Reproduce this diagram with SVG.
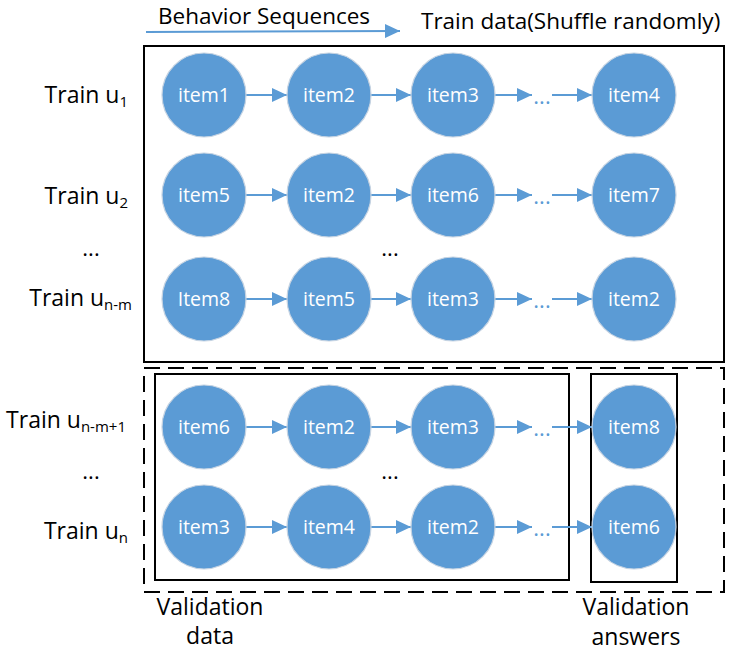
<svg xmlns="http://www.w3.org/2000/svg" width="739" height="657" viewBox="0 0 739 657">
<style>
.lbl{font-family:"Open Sans","Noto Sans","DejaVu Sans",sans-serif;font-size:23px;fill:#000}
.hdr{font-size:22.5px}
.sub{font-size:15px}
.node circle{fill:#5B9BD5;stroke:#c5d3e2;stroke-width:1.2}
.node text{font-family:"Open Sans","Noto Sans","DejaVu Sans",sans-serif;font-size:19.5px;fill:#fff;text-anchor:middle}
.conn line{stroke:#5B9BD5;stroke-width:2;marker-end:url(#ah)}
.dots{font-family:"Open Sans","Noto Sans",sans-serif;font-size:22px;fill:#5B9BD5;text-anchor:middle}
.bdots{font-family:"Open Sans","Noto Sans",sans-serif;font-size:22px;fill:#000;text-anchor:middle}
.box{fill:none;stroke:#000;stroke-width:2}
</style>
<defs>
<marker id="ah" markerUnits="userSpaceOnUse" viewBox="0 0 15 14" markerWidth="15" markerHeight="14" refX="15" refY="7" orient="auto">
<path d="M0,0 L15,7 L0,14 z" fill="#5B9BD5"/>
</marker>
</defs>
<rect width="739" height="657" fill="#fff"/>

<g id="header">
<text class="lbl hdr" x="158" y="24">Behavior Sequences</text>
<text class="lbl hdr" x="421" y="29">Train data(Shuffle randomly)</text>
</g>

<g id="boxes">
<rect id="train-box" class="box" x="144" y="46" width="580" height="316"/>
<rect id="validation-box" class="box" x="144" y="368" width="580" height="224" stroke-dasharray="16 8"/>
<rect id="validation-data-box" class="box" x="155" y="374" width="414" height="206"/>
<rect id="validation-answers-box" class="box" x="591" y="374" width="86" height="208"/>
</g>

<g id="row-labels">
<text class="lbl" x="128" y="103" text-anchor="end">Train u<tspan class="sub" dy="4">1</tspan></text>
<text class="lbl" x="128" y="204" text-anchor="end">Train u<tspan class="sub" dy="4">2</tspan></text>
<text class="bdots" x="91" y="256">...</text>
<text class="lbl" x="132" y="306" text-anchor="end">Train u<tspan class="sub" dy="4">n-m</tspan></text>
<text class="lbl" x="126" y="428" text-anchor="end">Train u<tspan class="sub" dy="4">n-m+1</tspan></text>
<text class="bdots" x="91" y="479">...</text>
<text class="lbl" x="128" y="539" text-anchor="end">Train u<tspan class="sub" dy="4">n</tspan></text>
<text class="bdots" x="390" y="256">...</text>
<text class="bdots" x="390" y="479">...</text>
</g>

<g id="connectors" class="conn">
<line x1="146" y1="32" x2="400" y2="31"/>
<line x1="246" y1="95" x2="287" y2="95"/><line x1="371" y1="95" x2="411" y2="95"/><line x1="495" y1="95" x2="532" y2="95"/><line x1="552" y1="95" x2="592" y2="95"/>
<line x1="246" y1="195" x2="287" y2="195"/><line x1="371" y1="195" x2="411" y2="195"/><line x1="495" y1="195" x2="532" y2="195"/><line x1="552" y1="195" x2="592" y2="195"/>
<line x1="246" y1="299" x2="287" y2="299"/><line x1="371" y1="299" x2="411" y2="299"/><line x1="495" y1="299" x2="532" y2="299"/><line x1="552" y1="299" x2="592" y2="299"/>
<line x1="246" y1="427" x2="287" y2="427"/><line x1="371" y1="427" x2="411" y2="427"/><line x1="495" y1="427" x2="532" y2="427"/><line x1="552" y1="427" x2="592" y2="427"/>
<line x1="246" y1="527" x2="287" y2="527"/><line x1="371" y1="527" x2="411" y2="527"/><line x1="495" y1="527" x2="532" y2="527"/><line x1="552" y1="527" x2="592" y2="527"/>
</g>
<g id="ellipses">
<text class="dots" x="542" y="104">...</text>
<text class="dots" x="542" y="204">...</text>
<text class="dots" x="542" y="308">...</text>
<text class="dots" x="542" y="436">...</text>
<text class="dots" x="542" y="536">...</text>
</g>

<g id="n-r1-1" class="node"><circle cx="204" cy="95" r="42"/><text x="204" y="102">item1</text></g>
<g id="n-r1-2" class="node"><circle cx="329" cy="95" r="42"/><text x="329" y="102">item2</text></g>
<g id="n-r1-3" class="node"><circle cx="453" cy="95" r="42"/><text x="453" y="102">item3</text></g>
<g id="n-r1-4" class="node"><circle cx="634" cy="95" r="42"/><text x="634" y="102">item4</text></g>

<g id="n-r2-1" class="node"><circle cx="204" cy="195" r="42"/><text x="204" y="202">item5</text></g>
<g id="n-r2-2" class="node"><circle cx="329" cy="195" r="42"/><text x="329" y="202">item2</text></g>
<g id="n-r2-3" class="node"><circle cx="453" cy="195" r="42"/><text x="453" y="202">item6</text></g>
<g id="n-r2-4" class="node"><circle cx="634" cy="195" r="42"/><text x="634" y="202">item7</text></g>

<g id="n-r3-1" class="node"><circle cx="204" cy="299" r="42"/><text x="204" y="306">Item8</text></g>
<g id="n-r3-2" class="node"><circle cx="329" cy="299" r="42"/><text x="329" y="306">item5</text></g>
<g id="n-r3-3" class="node"><circle cx="453" cy="299" r="42"/><text x="453" y="306">item3</text></g>
<g id="n-r3-4" class="node"><circle cx="634" cy="299" r="42"/><text x="634" y="306">item2</text></g>

<g id="n-r4-1" class="node"><circle cx="204" cy="427" r="42"/><text x="204" y="434">item6</text></g>
<g id="n-r4-2" class="node"><circle cx="329" cy="427" r="42"/><text x="329" y="434">item2</text></g>
<g id="n-r4-3" class="node"><circle cx="453" cy="427" r="42"/><text x="453" y="434">item3</text></g>
<g id="n-r4-4" class="node"><circle cx="634" cy="427" r="42"/><text x="634" y="434">item8</text></g>

<g id="n-r5-1" class="node"><circle cx="204" cy="527" r="42"/><text x="204" y="534">item3</text></g>
<g id="n-r5-2" class="node"><circle cx="329" cy="527" r="42"/><text x="329" y="534">item4</text></g>
<g id="n-r5-3" class="node"><circle cx="453" cy="527" r="42"/><text x="453" y="534">item2</text></g>
<g id="n-r5-4" class="node"><circle cx="634" cy="527" r="42"/><text x="634" y="534">item6</text></g>

<g id="footer">
<text class="lbl" x="210" y="615" text-anchor="middle">Validation</text>
<text class="lbl" x="210" y="644" text-anchor="middle">data</text>
<text class="lbl" x="636" y="615" text-anchor="middle">Validation</text>
<text class="lbl" x="636" y="645" text-anchor="middle">answers</text>
</g>
</svg>
